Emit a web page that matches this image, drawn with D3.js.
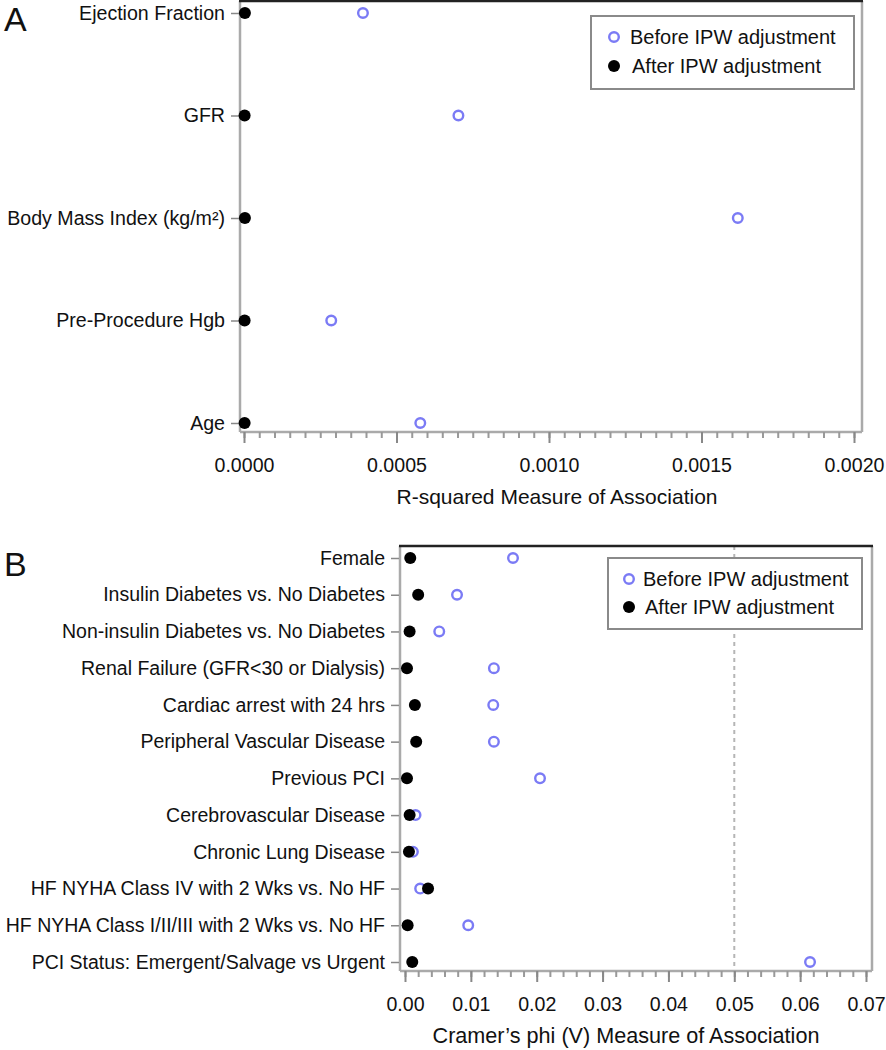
<!DOCTYPE html>
<html>
<head>
<meta charset="utf-8">
<script src="https://cdn.jsdelivr.net/npm/d3@7"></script>
<style>
  body { margin: 0; background: #fff; }
  svg { display: block; font-family: "Liberation Sans", Arial, sans-serif; }
</style>
</head>
<body>
<svg id="chart" width="886" height="1050"></svg>
<script>
// ---- Panel A data ----
const catsA = ["Ejection Fraction", "GFR", "Body Mass Index (kg/m\u00B2)", "Pre-Procedure Hgb", "Age"];
const beforeA = [0.00039, 0.000703, 0.001619, 0.000286, 0.000578];
const afterA  = [0.000003, 0.000002, 0.000003, 0.000002, 0.000002];
const ticksA = [0, 0.0005, 0.0010, 0.0015, 0.0020];

// ---- Panel B data ----
const catsB = ["Female", "Insulin Diabetes vs. No Diabetes", "Non-insulin Diabetes vs. No Diabetes",
  "Renal Failure (GFR<30 or Dialysis)", "Cardiac arrest with 24 hrs", "Peripheral Vascular Disease",
  "Previous PCI", "Cerebrovascular Disease", "Chronic Lung Disease",
  "HF NYHA Class IV with 2 Wks vs. No HF", "HF NYHA Class I/II/III with 2 Wks vs. No HF",
  "PCI Status: Emergent/Salvage vs Urgent"];
const beforeB = [0.0164, 0.0079, 0.0052, 0.0135, 0.0134, 0.0135, 0.0205, 0.0016, 0.0012, 0.0023, 0.0096, 0.0615];
const afterB  = [0.0008, 0.0020, 0.0007, 0.0003, 0.0015, 0.0017, 0.0003, 0.0007, 0.0006, 0.0035, 0.0004, 0.0011];
const ticksB = [0, 0.01, 0.02, 0.03, 0.04, 0.05, 0.06, 0.07];

const legendLabels = ["Before IPW adjustment", "After IPW adjustment"];
const blue = "#7b7bf5";

const svg = d3.select("#chart");

function panel(cfg) {
  const g = svg.append("g");
  const x = d3.scaleLinear().domain(cfg.xDomain).range(cfg.xRange);
  const y = d3.scalePoint().domain(cfg.cats).range(cfg.yRange);

  // reference line
  if (cfg.refLine != null) {
    g.append("line")
      .attr("x1", x(cfg.refLine)).attr("x2", x(cfg.refLine))
      .attr("y1", cfg.frame.top).attr("y2", cfg.frame.bottom)
      .attr("stroke", "#b5b5b5").attr("stroke-width", 2)
      .attr("stroke-dasharray", "4,4");
  }

  // frame
  g.append("line").attr("x1", cfg.frame.left).attr("x2", cfg.frame.left)
    .attr("y1", cfg.frame.top).attr("y2", cfg.frame.bottom)
    .attr("stroke", "#aaaaaa").attr("stroke-width", 2.5);
  g.append("line").attr("x1", cfg.frame.right).attr("x2", cfg.frame.right)
    .attr("y1", cfg.frame.top).attr("y2", cfg.frame.bottom)
    .attr("stroke", "#aaaaaa").attr("stroke-width", 2.5);
  g.append("line").attr("x1", cfg.frame.left).attr("x2", cfg.frame.right)
    .attr("y1", cfg.frame.bottom).attr("y2", cfg.frame.bottom)
    .attr("stroke", "#aaaaaa").attr("stroke-width", 2.5);
  g.append("line").attr("x1", cfg.frame.left - 1).attr("x2", cfg.frame.right + 1)
    .attr("y1", cfg.frame.top).attr("y2", cfg.frame.top)
    .attr("stroke", "#222").attr("stroke-width", 2.5);

  // minor ticks
  const minor = d3.range(0, cfg.nMinor + 1).map(i => cfg.xDomain[0] + i * cfg.minorStep);
  const xMinor = d3.axisBottom(x).tickValues(minor).tickSize(6).tickFormat("");
  const gm = g.append("g").attr("transform", `translate(0,${cfg.frame.bottom})`).call(xMinor);
  gm.select(".domain").remove();
  gm.selectAll("line").attr("stroke", "#999").attr("stroke-width", 2);

  // major ticks
  const xAxis = d3.axisBottom(x).tickValues(cfg.ticks).tickSize(11).tickPadding(15)
    .tickFormat(cfg.fmt);
  const gx = g.append("g").attr("transform", `translate(0,${cfg.frame.bottom})`).call(xAxis);
  gx.select(".domain").remove();
  gx.selectAll("line").attr("stroke", "#888").attr("stroke-width", 2);
  gx.selectAll("text").attr("font-size", 19.6).attr("fill", "#111")
    .attr("font-family", "Liberation Sans, Arial, sans-serif");

  // y axis
  const yAxis = d3.axisLeft(y).tickSize(8).tickPadding(6);
  const gy = g.append("g").attr("transform", `translate(${cfg.frame.left - 1},0)`).call(yAxis);
  gy.select(".domain").remove();
  gy.selectAll("line").attr("stroke", "#888").attr("stroke-width", 1.5);
  gy.selectAll("text").attr("font-size", cfg.yFont).attr("fill", "#111")
    .attr("font-family", "Liberation Sans, Arial, sans-serif");

  // x title
  g.append("text").attr("x", cfg.titleX).attr("y", cfg.titleY)
    .attr("text-anchor", "middle").attr("font-size", cfg.titleFont).attr("fill", "#111")
    .text(cfg.title);

  // panel letter
  g.append("text").attr("x", 4).attr("y", cfg.letterY)
    .attr("font-size", 34).attr("fill", "#111").text(cfg.letter);

  // before points (open blue)
  g.selectAll(".before").data(cfg.cats).join("circle")
    .attr("cx", (d, i) => x(cfg.before[i])).attr("cy", d => y(d))
    .attr("r", 4.8).attr("fill", "none").attr("stroke", blue).attr("stroke-width", 2.4);
  // after points (black)
  g.selectAll(".after").data(cfg.cats).join("circle")
    .attr("cx", (d, i) => x(cfg.after[i])).attr("cy", d => y(d))
    .attr("r", 6).attr("fill", "#000");

  // legend
  const L = cfg.legend;
  g.append("rect").attr("x", L.x).attr("y", L.y).attr("width", L.w).attr("height", L.h)
    .attr("fill", "#fff").attr("stroke", "#8a8a8a").attr("stroke-width", 2);
  legendLabels.forEach((lab, i) => {
    const cy = L.y + L.row0 + i * L.rowStep;
    if (i === 0) {
      g.append("circle").attr("cx", L.x + L.mx).attr("cy", cy).attr("r", 4.8)
        .attr("fill", "none").attr("stroke", blue).attr("stroke-width", 2.4);
    } else {
      g.append("circle").attr("cx", L.x + L.mx).attr("cy", cy).attr("r", 6).attr("fill", "#000");
    }
    g.append("text").attr("x", L.x + L.tx + (i === 1 ? 2 : 0)).attr("y", cy + 7)
      .attr("font-size", 20).attr("fill", "#111").text(lab);
  });
}

panel({
  cats: catsA, before: beforeA, after: afterA, ticks: ticksA,
  xDomain: [0, 0.002], xRange: [244, 854], yRange: [13, 423],
  frame: { left: 240, right: 862, top: 1, bottom: 432 },
  nMinor: 40, minorStep: 0.00005,
  fmt: d3.format(".4f"), yFont: 19.6,
  title: "R-squared Measure of Association", titleX: 557, titleY: 504, titleFont: 21,
  letter: "A", letterY: 31,
  legend: { x: 591, y: 16, w: 263, h: 73, row0: 21, rowStep: 29, mx: 23, tx: 39 },
  refLine: null
});

panel({
  cats: catsB, before: beforeB, after: afterB, ticks: ticksB,
  xDomain: [0, 0.07], xRange: [405, 866], yRange: [558, 962],
  frame: { left: 400, right: 872, top: 546, bottom: 971 },
  nMinor: 35, minorStep: 0.002,
  fmt: d3.format(".2f"), yFont: 19.5,
  title: "Cramer\u2019s phi (V) Measure of Association", titleX: 626, titleY: 1043, titleFont: 21.6,
  letter: "B", letterY: 576,
  legend: { x: 608, y: 558, w: 254, h: 71, row0: 21, rowStep: 28, mx: 21, tx: 35 },
  refLine: 0.05
});
</script>
</body>
</html>
